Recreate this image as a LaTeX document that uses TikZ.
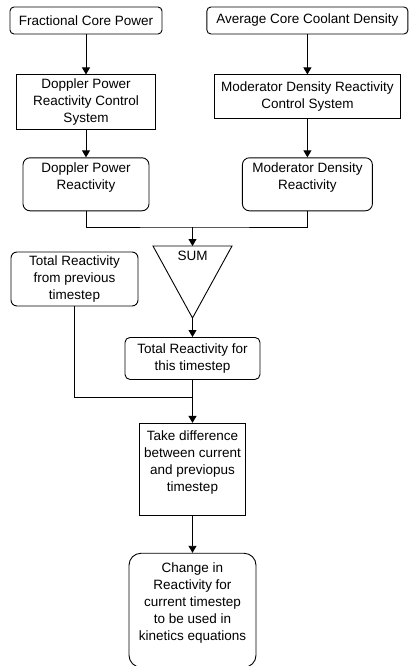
\documentclass[tikz,border=0pt]{standalone}
\usepackage{fontspec}
\setmainfont{Liberation Sans}
\usetikzlibrary{positioning,arrows.meta}
\begin{document}
\begin{tikzpicture}[
                x = 1pt,
                y = -1pt,
                > = {Triangle[length=7pt,width=8pt]},
                line width = 0.9pt,
                font = \fontsize{13.5}{17}\selectfont
                ]

                \tikzstyle{block}=[
                        draw = black,
                        rectangle,
                        align = center,
                        inner sep = 2pt
                ]
                \tikzstyle{rblock}=[
                        block,
                        rounded corners = 4pt
                ]

                \useasboundingbox (0,0) rectangle (408,666);

                \node[rblock, minimum width=152pt, minimum height=27pt] (1) at (86,20.5) {Fractional Core Power};
                \node[rblock, minimum width=201pt, minimum height=27pt] (2) [right=44pt of 1] {Average Core Coolant Density};
                \node[block, minimum width=139pt, minimum height=55pt] (3) [below=40pt of 1] {Doppler Power\\Reactivity Control\\System};
                \node[block, minimum width=186pt, minimum height=44pt] (4) [below=40pt of 2] {Moderator Density Reactivity\\Control System};
                \node[rblock, rounded corners=7pt, minimum width=126pt, minimum height=53pt] (5) [below=27pt of 3] {Doppler Power\\Reactivity\\\mbox{}};
                \node[rblock, rounded corners=7pt, minimum width=130pt, minimum height=53pt] (6) [below=38pt of 4] {Moderator Density\\Reactivity\\\mbox{}};

                % sum triangle
                \coordinate (7l) at (153,246);
                \coordinate (7r) at (232,246);
                \coordinate (7t) at (192.5,246);
                \coordinate (7b) at (192.5,318);
                \draw (7l) -- (7r) -- (7b) -- cycle;
                \node (7) at (192.5,256) {SUM};

                \node[rblock, rounded corners=6pt, minimum width=127pt, minimum height=54pt] (8) at (74.5,279) {Total Reactivity\\from previous\\timestep};
                \node[rblock, rounded corners=5pt, minimum width=135pt, minimum height=42pt] (9) [below=19pt of 7b] {Total Reactivity for\\this timestep};
                \node[block, minimum width=106pt, minimum height=92pt] (10) [below=43pt of 9] {Take difference\\between current\\and previopus\\timestep\\\mbox{}};
                \node[rblock, rounded corners=12pt, minimum width=127pt, minimum height=114pt] (11) [below=37pt of 10] {Change in\\Reactivity for\\current timestep\\to be used in\\kinetics equations\\\mbox{}};

                \coordinate (j1) at (192.5,227);
                \coordinate (j2) at (192.5,397);

                \draw[->] (1) -- (3);
                \draw[->] (3) -- (5);
                \draw[->] (2) -- (4);
                \draw[->] (4) -- (6);
                \draw (5) |- (j1) -| (6);
                \draw[->] (j1) -- (7t);
                \draw[->] (7b) -- (9);
                \draw (8) |- (j2);
                \draw (9) -- (j2);
                \draw[->] (j2) -- (10);
                \draw[->] (10) -- (11);
\end{tikzpicture}
\end{document}
